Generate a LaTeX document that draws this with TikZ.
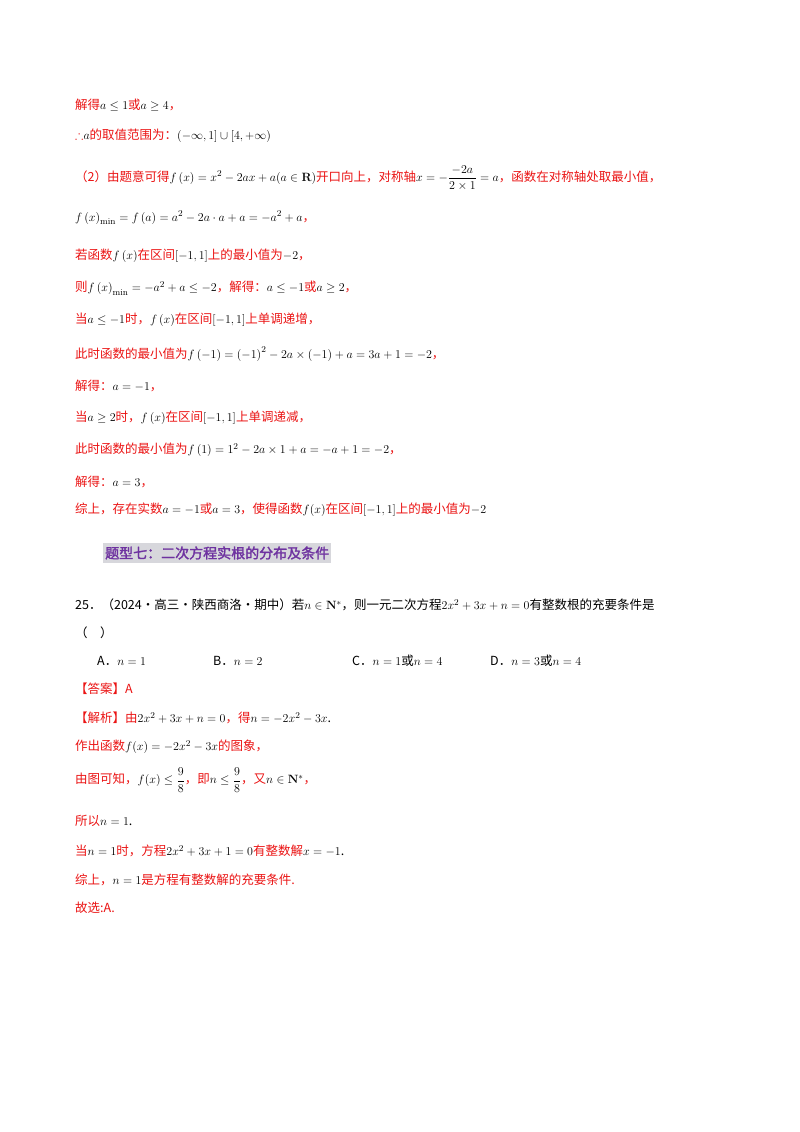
\documentclass[tikz,border=0pt]{standalone}
\usepackage{amsmath,amssymb}
\usepackage[no-math]{fontspec}
\setmainfont{Noto Sans CJK SC}
\newfontfamily\cjkb[FakeBold=2]{Noto Sans CJK SC}
\definecolor{rd}{RGB}{235,20,20}
\definecolor{pu}{RGB}{110,50,160}
\definecolor{hb}{RGB}{215,215,220}
\newcommand{\R}[1]{{\color{rd}#1}}
\begin{document}
\begin{tikzpicture}[x=1pt,y=-1pt,ln/.style={anchor=west,inner sep=0pt,font=\fontsize{12.5}{15}\selectfont}]
\useasboundingbox[fill=white] (0,0) rectangle (800,1132);
\node[ln] (l1) at (75,105) {\R{解得}$a\le1$\R{或}$a\ge4$\R{，}};
\node[ln] (l2) at (75,136) {\R{$\therefore$}$a$\R{的取值范围为：}$\left(-\infty,1\right]\cup\left[4,+\infty\right)$};
\node[ln] (l3) at (75,178) {\R{（2）由题意可得}$f\left(x\right)=x^2-2ax+a(a\in\mathbf{R})$\R{开口向上，对称轴}$x=-\dfrac{-2a}{2\times1}=a$\R{，函数在对称轴处取最小值，}};
\node[ln] (l4) at (75,218) {$f\left(x\right)_{\min}=f\left(a\right)=a^2-2a\cdot a+a=-a^2+a$\R{，}};
\node[ln] (l5) at (75,256) {\R{若函数}$f\left(x\right)$\R{在区间}$[-1,1]$\R{上的最小值为}$-2$\R{，}};
\node[ln] (l6) at (75,288) {\R{则}$f\left(x\right)_{\min}=-a^2+a\le-2$\R{，解得：}$a\le-1$\R{或}$a\ge2$\R{，}};
\node[ln] (l7) at (75,320) {\R{当}$a\le-1$\R{时，}$f\left(x\right)$\R{在区间}$[-1,1]$\R{上单调递增，}};
\node[ln] (l8) at (75,354) {\R{此时函数的最小值为}$f\left(-1\right)=\left(-1\right)^2-2a\times\left(-1\right)+a=3a+1=-2$\R{，}};
\node[ln] (l9) at (75,386) {\R{解得：}$a=-1$\R{，}};
\node[ln] (l10) at (75,418) {\R{当}$a\ge2$\R{时，}$f\left(x\right)$\R{在区间}$[-1,1]$\R{上单调递减，}};
\node[ln] (l11) at (75,450) {\R{此时函数的最小值为}$f\left(1\right)=1^2-2a\times1+a=-a+1=-2$\R{，}};
\node[ln] (l12) at (75,482) {\R{解得：}$a=3$\R{，}};
\node[ln] (l13) at (75,510) {\R{综上，存在实数}$a=-1$\R{或}$a=3$\R{，使得函数}$f(x)$\R{在区间}$[-1,1]$\R{上的最小值为}$-2$};
\node[ln,fill=hb,inner xsep=2pt,inner ysep=3pt,font=\fontsize{14}{16}\cjkb] (h) at (103,553) {\color{pu}题型七：二次方程实根的分布及条件};
\node[ln] (q1) at (75,605) {25．（2024·高三·陕西商洛·期中）若$n\in\mathbf{N}^*$，则一元二次方程$2x^2+3x+n=0$有整数根的充要条件是};
\node[ln] (q2) at (75,633) {（\quad）};
\node[ln] (oa) at (97,661) {A．$n=1$};
\node[ln] (ob) at (213,661) {B．$n=2$};
\node[ln] (oc) at (352,661) {C．$n=1$或$n=4$};
\node[ln] (od) at (490,661) {D．$n=3$或$n=4$};
\node[ln] (an) at (75,689) {\R{【答案】A}};
\node[ln] (j1) at (75,718) {\R{【解析】由}$2x^2+3x+n=0$\R{，得}$n=-2x^2-3x$.};
\node[ln] (j2) at (75,747) {\R{作出函数}$f(x)=-2x^2-3x$\R{的图象，}};
\node[ln] (j3) at (75,780) {\R{由图可知，}$f(x)\le\dfrac{9}{8}$\R{，即}$n\le\dfrac98$\R{，又}$n\in\mathbf{N}^*$\R{，}};
\node[ln] (j4) at (75,821) {\R{所以}$n=1$.};
\node[ln] (j5) at (75,851) {\R{当}$n=1$\R{时，方程}$2x^2+3x+1=0$\R{有整数解}$x=-1$.};
\node[ln] (j6) at (75,880) {\R{综上，}$n=1$\R{是方程有整数解的充要条件.}};
\node[ln] (j7) at (75,908) {\R{故选:A.}};
\end{tikzpicture}
\end{document}
